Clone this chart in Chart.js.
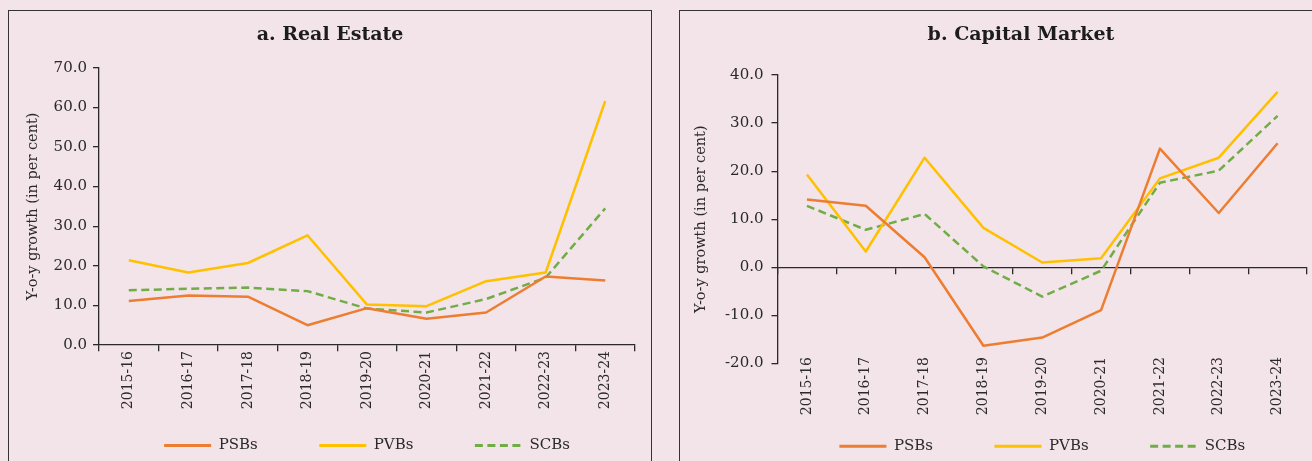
<!DOCTYPE html>
<html>
<head>
<meta charset="utf-8">
<script src="https://cdn.jsdelivr.net/npm/chart.js@4.4.1/dist/chart.umd.min.js"></script>
<style>
  html, body { margin: 0; padding: 0; width: 1312px; height: 461px; overflow: hidden; background: #f2e4e9; }
  .frame { position: absolute; box-sizing: border-box; border: 1.5px solid #333; }
  .holder { position: absolute; }
  canvas { display: block; }
</style>
</head>
<body>
<div class="frame" style="left:8px; top:10px; width:644px; height:480px;"></div>
<div class="frame" style="left:679px; top:10px; width:700px; height:480px;"></div>
<div class="holder" style="left:9px; top:11px;"><canvas id="realEstate" width="642" height="450"></canvas></div>
<div class="holder" style="left:680px; top:11px;"><canvas id="capitalMarket" width="682" height="450"></canvas></div>

<script>
// Financial years on the category axis
const years = ['2015-16', '2016-17', '2017-18', '2018-19', '2019-20', '2020-21', '2021-22', '2022-23', '2023-24'];

// a. Real Estate: y-o-y growth, per cent
const realEstatePSBs = [11.1, 12.5, 12.2, 5.0, 9.3, 6.6, 8.2, 17.3, 16.3];
const realEstatePVBs = [21.4, 18.3, 20.7, 27.7, 10.2, 9.8, 16.1, 18.3, 61.6];
const realEstateSCBs = [13.8, 14.2, 14.5, 13.6, 9.2, 8.2, 11.6, 17.0, 34.5];
const realEstateTicks = [0, 10, 20, 30, 40, 50, 60, 70];

// b. Capital Market: y-o-y growth, per cent
const capitalPSBs = [14.1, 12.8, 2.1, -16.3, -14.6, -8.9, 24.7, 11.3, 25.8];
const capitalPVBs = [19.3, 3.3, 22.8, 8.2, 1.0, 1.9, 18.5, 22.8, 36.5];
const capitalSCBs = [12.8, 7.8, 11.1, 0.2, -6.1, -0.7, 17.6, 20.1, 31.5];
const capitalTicks = [-20, -10, 0, 10, 20, 30, 40];

const INK = '#2a2a2a';
const SERIF = "'DejaVu Serif', serif";
const ORANGE = '#ed7d31';
const GOLD = '#ffc000';
const GREEN = '#70ad47';

function series(label, data, color, dash) {
  return {
    label, data,
    borderColor: color, backgroundColor: color,
    borderWidth: 2.5, borderDash: dash, borderCapStyle: 'butt', borderJoinStyle: 'round',
    pointRadius: 0, pointHoverRadius: 0, tension: 0, fill: false,
    xAxisID: 'x', yAxisID: 'y'
  };
}

// legend keys drawn as short strokes in each series' own line style
function lineKeys(chart) {
  return Chart.defaults.plugins.legend.labels.generateLabels(chart).map(item => {
    const ds = chart.data.datasets[item.datasetIndex];
    return Object.assign(item, {
      pointStyle: 'line', strokeStyle: ds.borderColor, fillStyle: ds.borderColor,
      lineWidth: 3, lineDash: ds.borderDash, lineCap: 'butt'
    });
  });
}

function panel(canvasId, p) {
  const yMin = p.ticks[0];
  const yMax = p.ticks[p.ticks.length - 1];
  return new Chart(document.getElementById(canvasId), {
    type: 'line',
    data: {
      labels: years,
      datasets: [
        series('PSBs', p.psb, ORANGE, []),
        series('PVBs', p.pvb, GOLD, []),
        series('SCBs', p.scb, GREEN, [8, 4.5])
      ]
    },
    options: {
      responsive: false,
      animation: false,
      events: [],
      layout: { padding: 0 },
      scales: {
        // category scale used by the series; keeps room between plot and legend
        x: {
          type: 'category', axis: 'x', position: 'bottom', offset: true,
          border: { display: false },
          grid: { display: false, drawTicks: false },
          ticks: { display: false },
          afterFit: s => { s.height = p.xH; }
        },
        // axis line with tick marks, drawn where y = 0
        x0: {
          type: 'category', axis: 'x', labels: years, position: { y: 0 }, offset: true,
          border: { display: true, color: INK, width: 1.3 },
          grid: { display: true, drawOnChartArea: false, drawTicks: true, tickLength: 6, offset: true, color: INK, lineWidth: 1.3 },
          ticks: { display: false }
        },
        // year labels hung from the bottom of the value range
        xLabels: {
          type: 'category', axis: 'x', labels: years, position: { y: yMin }, offset: true,
          border: { display: false },
          grid: { display: false, drawTicks: false },
          ticks: {
            autoSkip: false, minRotation: 90, maxRotation: 90, padding: p.xPad,
            color: INK, font: { family: SERIF, size: 14 }
          }
        },
        y: {
          type: 'linear', axis: 'y', position: 'left', min: yMin, max: yMax,
          afterBuildTicks: s => { s.ticks = p.ticks.map(v => ({ value: v })); },
          border: { display: true, color: INK, width: 1.3 },
          grid: { display: true, drawOnChartArea: false, drawTicks: true, tickLength: 6, color: INK, lineWidth: 1.3 },
          ticks: {
            padding: p.yPad, color: INK, font: { family: SERIF, size: 15 },
            callback: v => Number(v).toFixed(1)
          },
          title: {
            display: true, text: 'Y-o-y growth (in per cent)', color: INK,
            font: { family: SERIF, size: 14.5, lineHeight: 1.2 },
            padding: { top: p.yTitlePad, bottom: 0 }
          },
          afterFit: s => { s.width = p.yW; }
        },
        // empty margin to the right of the plot
        yMargin: {
          type: 'linear', axis: 'y', position: 'right', display: true,
          border: { display: false }, grid: { display: false }, ticks: { display: false },
          afterFit: s => { s.width = p.rightW; }
        }
      },
      plugins: {
        tooltip: { enabled: false },
        title: {
          display: true, text: p.title, color: '#1c1c1c',
          font: { family: SERIF, size: 19, weight: 'bold', lineHeight: 1.2 },
          padding: { top: 13.1, bottom: p.titleBottom }
        },
        legend: {
          display: true, position: 'bottom', fullSize: false, maxHeight: p.legendH,
          labels: {
            usePointStyle: true, pointStyle: 'line', pointStyleWidth: 47, padding: 61.5,
            color: INK, font: { family: SERIF, size: 15 },
            generateLabels: lineKeys
          }
        }
      }
    }
  });
}

panel('realEstate', {
  title: 'a. Real Estate',
  psb: realEstatePSBs, pvb: realEstatePVBs, scb: realEstateSCBs, ticks: realEstateTicks,
  yW: 90, rightW: 16, yPad: 6, yTitlePad: 15.3, titleBottom: 20.8,
  xPad: 6, xH: 31.5, legendH: 84.5
});

panel('capitalMarket', {
  title: 'b. Capital Market',
  psb: capitalPSBs, pvb: capitalPVBs, scb: capitalSCBs, ticks: capitalTicks,
  yW: 97.5, rightW: 55, yPad: 8, yTitlePad: 12.9, titleBottom: 28.1,
  xPad: -6.5, xH: 13.7, legendH: 83.8
});
</script>
</body>
</html>
